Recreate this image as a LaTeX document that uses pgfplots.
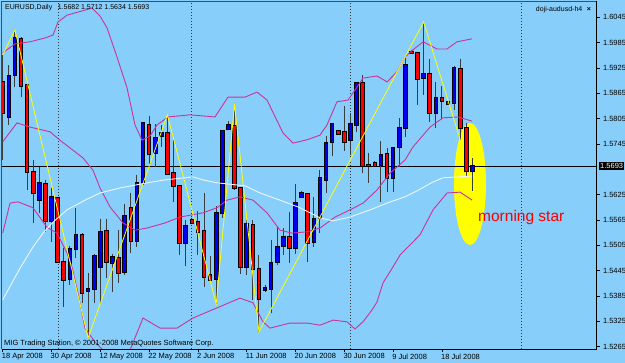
\documentclass[border=0pt]{standalone}
\usepackage{pgfplots}
\pgfplotsset{compat=1.18}
\usepackage{pgfplotstable}
\usepackage{fontspec}
\setmainfont{Liberation Sans}
\definecolor{bg}{RGB}{135,206,250}
\definecolor{band}{RGB}{204,51,153}
\definecolor{bull}{RGB}{0,0,240}
\definecolor{bear}{RGB}{250,0,0}
\definecolor{wick}{RGB}{60,60,60}
\definecolor{ma}{RGB}{240,246,250}
\definecolor{zz}{RGB}{255,255,0}

\pgfplotstableread{
i O H L C
1 1.5809 1.5932 1.5790 1.5906
2 1.5908 1.6015 1.5880 1.5996
6 1.5612 1.5691 1.5582 1.5653
8 1.5563 1.5641 1.5513 1.5620
11 1.5425 1.5504 1.5411 1.5496
12 1.5496 1.5594 1.5475 1.5530
14 1.5397 1.5440 1.5286 1.5402
15 1.5402 1.5485 1.5369 1.5480
16 1.5454 1.5567 1.5366 1.5537
18 1.5463 1.5485 1.5395 1.5477
20 1.5442 1.5603 1.5435 1.5575
22 1.5515 1.5672 1.5501 1.5653
23 1.5653 1.5797 1.5648 1.5795
25 1.5724 1.5792 1.5691 1.5759
26 1.5764 1.5790 1.5738 1.5771
30 1.5511 1.5565 1.5456 1.5551
35 1.5425 1.5598 1.5366 1.5582
36 1.5582 1.5778 1.5570 1.5776
37 1.5781 1.5799 1.5781 1.5790
40 1.5454 1.5565 1.5435 1.5556
43 1.5399 1.5411 1.5395 1.5404
44 1.5402 1.5518 1.5345 1.5463
45 1.5466 1.5548 1.5459 1.5501
46 1.5504 1.5546 1.5482 1.5525
48 1.5499 1.5650 1.5485 1.5605
49 1.5620 1.5634 1.5620 1.5629
51 1.5513 1.5620 1.5501 1.5567
52 1.5570 1.5683 1.5534 1.5665
53 1.5660 1.5764 1.5629 1.5747
54 1.5750 1.5792 1.5717 1.5792
57 1.5755 1.5818 1.5719 1.5792
58 1.5790 1.5892 1.5773 1.5890
62 1.5695 1.5752 1.5608 1.5719
64 1.5665 1.5738 1.5631 1.5736
65 1.5738 1.5807 1.5691 1.5783
66 1.5783 1.5949 1.5762 1.5932
69 1.5901 1.6034 1.5861 1.5911
71 1.5818 1.5892 1.5783 1.5854
74 1.5842 1.5930 1.5826 1.5925
77 1.5682 1.5712 1.5634 1.5693
}\bulltab

\pgfplotstableread{
i O H L C
0 1.5892 1.5956 1.5707 1.5818
3 1.5994 1.5998 1.5856 1.5882
4 1.5885 1.5890 1.5636 1.5679
5 1.5679 1.5707 1.5558 1.5629
7 1.5650 1.5660 1.5537 1.5563
9 1.5617 1.5620 1.5463 1.5466
10 1.5466 1.5499 1.5359 1.5423
13 1.5530 1.5534 1.5369 1.5392
17 1.5539 1.5567 1.5428 1.5466
19 1.5475 1.5541 1.5416 1.5440
21 1.5594 1.5629 1.5487 1.5515
24 1.5790 1.5811 1.5695 1.5721
27 1.5771 1.5814 1.5672 1.5674
28 1.5676 1.5755 1.5608 1.5646
29 1.5646 1.5648 1.5482 1.5511
31 1.5565 1.5570 1.5556 1.5558
32 1.5560 1.5586 1.5482 1.5537
33 1.5539 1.5629 1.5406 1.5430
34 1.5435 1.5480 1.5421 1.5423
38 1.5788 1.5840 1.5636 1.5641
39 1.5641 1.5643 1.5437 1.5454
41 1.5553 1.5565 1.5376 1.5449
42 1.5449 1.5482 1.5300 1.5378
47 1.5525 1.5584 1.5463 1.5499
50 1.5627 1.5627 1.5466 1.5511
55 1.5776 1.5778 1.5769 1.5769
56 1.5773 1.5835 1.5728 1.5750
59 1.5890 1.5908 1.5676 1.5693
60 1.5695 1.5724 1.5653 1.5693
61 1.5700 1.5705 1.5691 1.5693
63 1.5721 1.5736 1.5631 1.5665
67 1.5963 1.5968 1.5958 1.5961
68 1.5961 1.5963 1.5837 1.5899
70 1.5911 1.5946 1.5797 1.5818
72 1.5854 1.5882 1.5804 1.5847
73 1.5845 1.5847 1.5837 1.5840
75 1.5923 1.5946 1.5755 1.5783
76 1.5783 1.5795 1.5667 1.5681
}\beartab

\pgfplotstableread{
x y
0 1.5961
2.02 1.5982
4.48 1.5987
6.93 1.5996
8.25 1.6003
9.07 1.6034
10.54 1.6050
13.49 1.6062
14.64 1.6067
15.95 1.6048
17.10 1.6020
18.74 1.5951
20.38 1.5878
21.69 1.5790
22.84 1.5754
24.15 1.5764
25.30 1.5790
27.10 1.5809
30.70 1.5814
34.80 1.5809
36.93 1.5856
39.72 1.5856
41.69 1.5868
43.33 1.5849
45.95 1.5771
47.59 1.5747
49.89 1.5755
52.02 1.5766
53.16 1.5790
54.80 1.5845
56.61 1.5849
57.75 1.5873
59.07 1.5901
61.36 1.5906
63.00 1.5892
64.64 1.5916
65.95 1.5951
67.26 1.5968
68.92 1.5987
71.20 1.5970
72.84 1.5970
74.48 1.5987
76.95 1.5994
}\bandup

\pgfplotstableread{
x y
0 1.5750
2.34 1.5795
4.48 1.5785
7.75 1.5774
9.39 1.5754
13.16 1.5712
14.80 1.5683
15.95 1.5641
17.59 1.5596
19.72 1.5558
21.69 1.5541
23.66 1.5546
26.61 1.5558
29.07 1.5572
32.84 1.5582
35.13 1.5594
36.77 1.5612
38.89 1.5620
41.03 1.5612
43.33 1.5582
45.46 1.5541
47.43 1.5534
49.89 1.5537
52.02 1.5546
54.48 1.5572
56.93 1.5589
59.07 1.5605
61.36 1.5636
63.49 1.5676
65.95 1.5707
67.26 1.5738
70.05 1.5785
72.18 1.5807
74.64 1.5809
76.95 1.5799
}\bandmid

\pgfplotstableread{
x y
0 1.5534
1.20 1.5605
2.51 1.5608
4.97 1.5594
7.26 1.5548
8.90 1.5534
10.54 1.5487
11.36 1.5454
12.34 1.5392
13.49 1.5309
15.13 1.5276
16.44 1.5257
17.59 1.5229
19.56 1.5229
20.87 1.5257
23.00 1.5333
25.79 1.5309
28.57 1.5309
31.20 1.5333
35.13 1.5357
38.89 1.5380
41.03 1.5369
42.67 1.5324
43.82 1.5309
47.10 1.5321
49.89 1.5321
52.02 1.5316
54.15 1.5328
56.44 1.5324
57.75 1.5307
59.07 1.5324
60.54 1.5352
61.36 1.5371
62.34 1.5416
63.98 1.5454
65.13 1.5482
66.77 1.5506
68.41 1.5530
70.54 1.5589
72.84 1.5629
74.97 1.5631
76.95 1.5612
}\bandlow

\pgfplotstableread{
x y
0 1.5376
2.84 1.5451
4.97 1.5501
6.61 1.5534
8.25 1.5560
10.54 1.5589
13.49 1.5612
15.95 1.5629
19.23 1.5641
23.66 1.5653
26.61 1.5660
31.20 1.5667
32.84 1.5660
35.13 1.5653
39.72 1.5646
42.18 1.5629
45.46 1.5612
48.74 1.5594
52.02 1.5570
54.15 1.5563
56.93 1.5572
60.21 1.5589
63.00 1.5605
65.95 1.5620
67.92 1.5634
70.54 1.5655
72.18 1.5665
76.95 1.5669
}\matab

\pgfplotstableread{
x y
0 1.5956
2 1.6015
14 1.5286
27 1.5814
35 1.5366
38 1.5840
42 1.5300
69 1.6034
75 1.5755
}\zigzag

\pgfplotsset{
  candle/.style 2 args={draw=none, mark=none, forget plot,
    error bars/.cd, y dir=minus, y explicit, error mark=none,
    error bar style={line width=#1, draw=#2, solid}},
}

\begin{document}
\begin{tikzpicture}[x=1pt,y=1pt]
\path[use as bounding box] (0,0) rectangle (625,363);
\fill[bg] (0,0) rectangle (625,363);
\fill[zz] (470,179) ellipse [x radius=16, y radius=61];
\foreach \xx in {58,191,350,521}{\draw[black!80, line width=0.7pt, dash pattern=on 1.2pt off 1.8pt] (\xx,14) -- (\xx,361.5);}
\draw[gray!60!black, line width=0.8pt] (1.5,14) -- (1.5,362) -- (596.5,362);
\begin{axis}[
  at={(2pt,14pt)}, anchor=south west,
  scale only axis, width=594.5pt, height=347.5pt,
  xmin=-0.115, xmax=97.34, ymin=1.52596, ymax=1.60824,
  axis x line*=bottom, axis y line*=right,
  axis line style={black, line width=0.8pt},
  tick align=outside, major tick length=3pt,
  tick style={black, line width=0.6pt},
  xtick={0,8,16,24,32,40,48,56,64,72},
  xticklabels={18 Apr 2008,30 Apr 2008,12 May 2008,22 May 2008,2 Jun 2008,11 Jun 2008,20 Jun 2008,30 Jun 2008,9 Jul 2008,18 Jul 2008},
  xticklabel style={anchor=north west, inner sep=0pt, xshift=-1pt, yshift=-1.5pt, font=\fontsize{7.5}{9}\selectfont},
  ytick={1.5265,1.5325,1.5385,1.5445,1.5505,1.5565,1.5625,1.5745,1.5805,1.5865,1.5925,1.5985,1.6045},
  yticklabel style={font=\fontsize{7.5}{9}\selectfont,
    /pgf/number format/fixed, /pgf/number format/fixed zerofill,
    /pgf/number format/precision=4, /pgf/number format/assume math mode=true},
  scaled y ticks=false,
  clip=true,
]
\addplot[black, line width=0.7pt, forget plot] coordinates {(-1,1.5693) (98,1.5693)};
% wicks
\addplot[candle={1pt}{wick}] table[x=i, y=H, y error expr=\thisrow{H}-\thisrow{L}] {\bulltab};
\addplot[candle={1pt}{wick}] table[x=i, y=H, y error expr=\thisrow{H}-\thisrow{L}] {\beartab};
% bodies
\addplot[candle={4.6pt}{black}] table[x=i, y expr=\thisrow{C}+0.00024, y error expr=\thisrow{C}-\thisrow{O}+0.00048] {\bulltab};
\addplot[candle={2.6pt}{bull}] table[x=i, y=C, y error expr=\thisrow{C}-\thisrow{O}] {\bulltab};
\addplot[candle={4.6pt}{black}] table[x=i, y expr=\thisrow{O}+0.00024, y error expr=\thisrow{O}-\thisrow{C}+0.00048] {\beartab};
\addplot[candle={2.6pt}{bear}] table[x=i, y=O, y error expr=\thisrow{O}-\thisrow{C}] {\beartab};
% indicators
\addplot[band, line width=0.9pt, forget plot] table {\bandup};
\addplot[band, line width=0.9pt, forget plot] table {\bandmid};
\addplot[band, line width=0.9pt, forget plot] table {\bandlow};
\addplot[ma, line width=0.9pt, forget plot] table {\matab};
\addplot[zz, line width=0.8pt, forget plot] table {\zigzag};
\coordinate (cp) at (axis cs:97.34,1.5693);
\end{axis}
\node[fill=black, text=white, anchor=west, inner xsep=1pt, inner ysep=1.5pt, font=\fontsize{7.5}{9}\selectfont] at ([xshift=2.5pt]cp) {1.5693};
\node[anchor=west, inner sep=0pt, font=\fontsize{7}{8}\selectfont] at (5,355.5) {EURUSD,Daily\hspace{3.6pt} 1.5682 1.5712 1.5634 1.5693};
\node[anchor=east, inner sep=0pt, font=\fontsize{7}{8}\selectfont] at (582.5,353.7) {doji-audusd-h4};
\node[inner sep=0pt, font=\fontsize{7}{8}\selectfont\bfseries] at (589,354) {×};
\node[anchor=west, inner sep=0pt, font=\fontsize{7.5}{9}\selectfont] at (4,19.5) {MIG Trading Station, © 2001-2008 MetaQuotes Software Corp.};
\node[anchor=west, inner sep=0pt, text=bear, font=\fontsize{15.5}{18}\selectfont] at (478,145) {morning star};
\end{tikzpicture}
\end{document}
